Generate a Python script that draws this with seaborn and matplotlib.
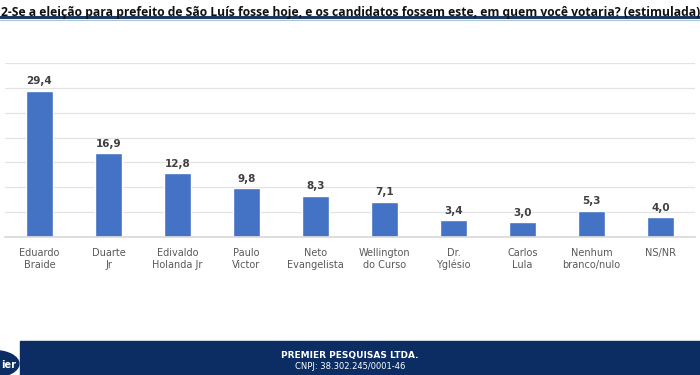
import matplotlib.pyplot as plt
import matplotlib.patches as mpatches
from matplotlib.lines import Line2D
import pandas as pd
import seaborn as sns

candidatos = ["Eduardo\nBraide", "Duarte\nJr", "Edivaldo\nHolanda Jr", "Paulo\nVictor",
              "Neto\nEvangelista", "Wellington\ndo Curso", "Dr.\nYglésio", "Carlos\nLula",
              "Nenhum\nbranco/nulo", "NS/NR"]
percentuais = [29.4, 16.9, 12.8, 9.8, 8.3, 7.1, 3.4, 3.0, 5.3, 4.0]
rotulos = ["29,4", "16,9", "12,8", "9,8", "8,3", "7,1", "3,4", "3,0", "5,3", "4,0"]

titulo = ("2-Se a eleição para prefeito de São Luís fosse hoje, e os candidatos fossem este, "
          "em quem você votaria? (estimulada)")

df = pd.DataFrame({"candidato": candidatos, "pct": percentuais})

sns.set_theme(style="white")
plt.rcParams['font.family'] = ['DejaVu Sans']

fig = plt.figure(figsize=(7, 3.75), dpi=100)
ax = fig.add_axes([0.007, 0.368, 0.986, 0.464])

sns.barplot(data=df, x="candidato", y="pct", color="#4472C4", saturation=1,
            width=0.39, ax=ax)

for i, (v, r) in enumerate(zip(percentuais, rotulos)):
    ax.text(i, v + 0.9, r, ha="center", va="bottom", fontsize=7.5,
            fontweight="bold", color="#404040")

ax.set_ylim(0, 35)
ax.set_xlim(-0.5, len(candidatos) - 0.5)
ax.set_yticks(range(0, 36, 5))
ax.yaxis.grid(True, color="#E3E3E3", linewidth=0.9)
ax.set_axisbelow(True)
ax.set_yticklabels([])
ax.tick_params(axis="y", length=0)
ax.tick_params(axis="x", length=0, labelsize=7, labelcolor="#595959", pad=8)
ax.set_xlabel("")
ax.set_ylabel("")
for s in ["top", "right", "left"]:
    ax.spines[s].set_visible(False)
ax.spines["bottom"].set_color("#D9D9D9")

# title
fig.text(0.001, 0.985, titulo, ha="left", va="top", fontsize=8.7,
         fontweight="bold", color="#111111", family="Open Sans")
fig.add_artist(Line2D([0, 1], [0.955, 0.955], color="#1F3A5F", linewidth=2.2,
                      transform=fig.transFigure))
fig.add_artist(Line2D([0, 1], [0.948, 0.948], color="#A9C4DE", linewidth=0.8,
                      transform=fig.transFigure))

# footer band
fig.add_artist(mpatches.Rectangle((0.029, 0), 0.971, 0.091, color="#0B2D63",
                                  transform=fig.transFigure, zorder=1))
fig.add_artist(mpatches.Circle((-0.008, 0.03), 0.035, color="#0B2D63",
                               transform=fig.transFigure, zorder=2))
fig.text(0.001, 0.012, "ier", ha="left", va="bottom", fontsize=7, fontweight="bold",
         color="white", zorder=3)
fig.text(0.5, 0.052, "PREMIER PESQUISAS LTDA.", ha="center", va="center",
         fontsize=6.5, fontweight="bold", color="white")
fig.text(0.5, 0.022, "CNPJ: 38.302.245/0001-46", ha="center", va="center",
         fontsize=6, color="white")

fig.savefig("out.png", dpi=100)
